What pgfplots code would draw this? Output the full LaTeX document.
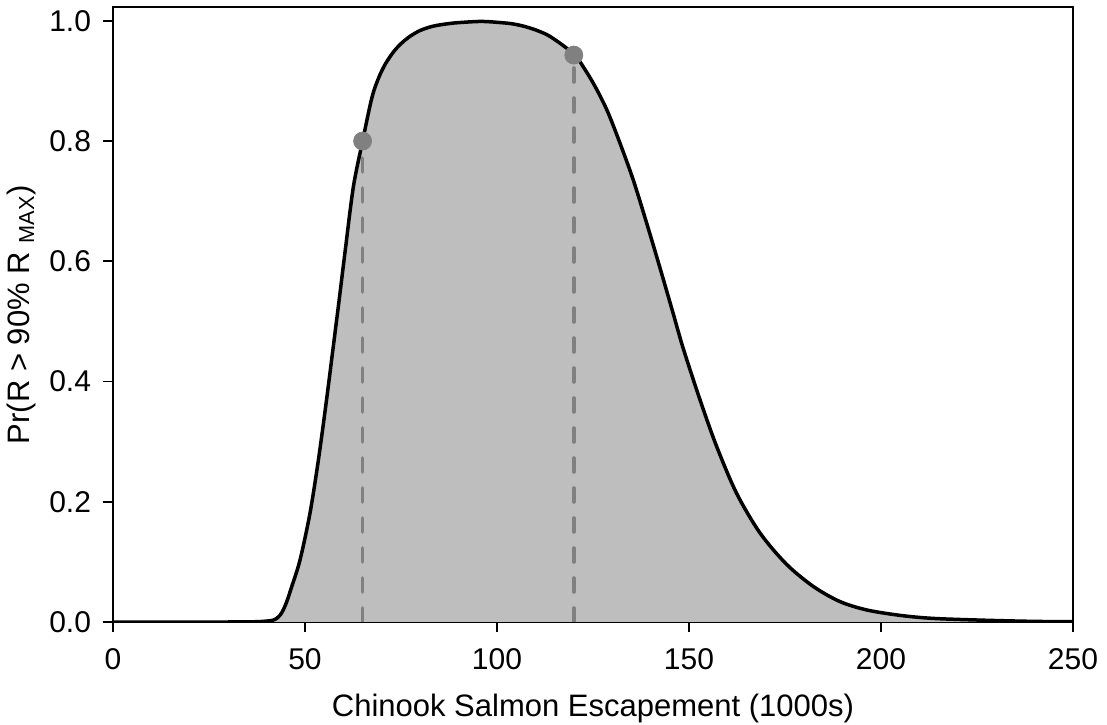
\documentclass[border=0pt]{standalone}
\usepackage{fontspec}
\setmainfont{Liberation Sans}
\usepackage{pgfplots}
\pgfplotsset{compat=1.18}
\usepackage{pgfplotstable}
\definecolor{fillgray}{HTML}{BEBEBE}
\definecolor{dotgray}{HTML}{808080}
\pgfplotstableread{
x y
0 0
30 0
36 0.0003
39 0.001
41.7 0.003
43 0.008
44 0.016
45.2 0.033
46.5 0.058
48.7 0.103
51.3 0.181
53.5 0.27
55.6 0.369
57.6 0.47
58.9 0.536
60.4 0.614
62.6 0.724
65 0.80
66.9 0.858
68 0.885
69.5 0.910
71 0.929
73.0 0.948
75 0.962
77.3 0.974
80 0.984
83.3 0.991
87 0.995
90 0.997
96 0.999
101 0.997
104 0.995
107 0.991
110 0.985
113 0.977
115 0.969
117 0.960
120 0.945
121.6 0.932
125.1 0.896
128.6 0.852
132 0.797
135.5 0.735
139 0.663
142.4 0.590
145.8 0.515
148.5 0.455
152.9 0.369
157.2 0.292
162.4 0.214
168.5 0.148
175.4 0.096
182.4 0.059
189.3 0.034
196.3 0.02
205 0.011
213.5 0.006
226.6 0.003
240 0.001
250 0.0005
}\curve
\pgfplotstableread{
x y
65 0.80
120 0.943
}\pts
\begin{document}
\begin{tikzpicture}
\begin{axis}[
  scale only axis,
  width=480bp, height=307.5bp,
  xmin=0, xmax=250, ymin=0, ymax=1.023,
  axis line style={line width=1bp},
  tick align=outside,
  major tick length=5bp,
  every tick/.style={black, line width=0.8bp},
  xtick={0,50,100,150,200,250},
  ytick={0,0.2,0.4,0.6,0.8,1.0},
  xtick pos=bottom, ytick pos=left,
  /pgf/number format/assume math mode=true,
  tick label style={font=\fontsize{15bp}{18bp}\selectfont},
  xticklabel style={yshift=-5bp},
  yticklabel style={xshift=-2.5bp, /pgf/number format/.cd, fixed, fixed zerofill, precision=1},
  label style={font=\fontsize{15.5bp}{18bp}\selectfont},
  xlabel style={yshift=-5bp},
  xlabel={Chinook Salmon Escapement (1000s)},
  ylabel={Pr(R > 90\% R \textsubscript{MAX})},
  clip=true,
]
\addplot[fill=fillgray, draw=none, smooth] table {\curve} \closedcycle;
\addplot[black, line width=1.75bp, smooth] table {\curve};
\addplot[dotgray, line width=1.8bp, dash pattern=on 7bp off 8bp, line cap=round, ycomb] table {\pts};
\addplot[only marks, mark=*, mark size=4.5bp, dotgray, mark options={draw=dotgray, fill=dotgray}] table {\pts};
\end{axis}
\pgfresetboundingbox
\path (current axis.south west) ++(-56.5bp,-51.5bp) coordinate (bl);
\path (current axis.north east) ++(17bp,3.5bp) coordinate (tr);
\path[use as bounding box] (bl) rectangle (tr);
\end{tikzpicture}
\end{document}
